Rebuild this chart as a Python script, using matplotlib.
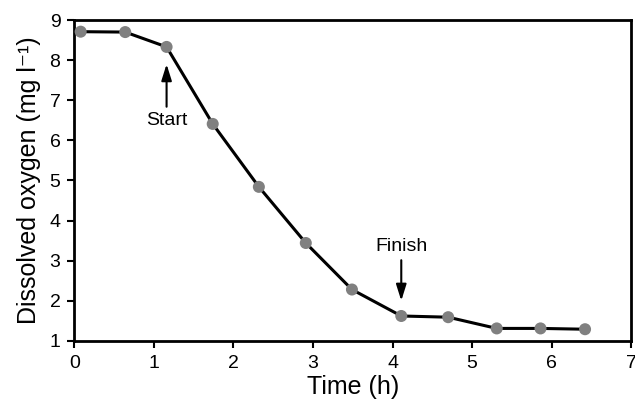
import numpy as np
from matplotlib import pyplot as plt

plt.rcParams['font.family'] = ['Liberation Sans', 'DejaVu Sans']

# sampling times (h) and dissolved oxygen (mg/l)
time_h = [0.08, 0.64, 1.16, 1.74, 2.32, 2.91, 3.49, 4.11, 4.70, 5.31, 5.86, 6.42]
oxygen = [8.71, 8.70, 8.33, 6.41, 4.84, 3.44, 2.28, 1.62, 1.59, 1.31, 1.31, 1.29]

fig = plt.figure(figsize=(6.35, 4.01), dpi=100)
ax = fig.add_axes([0.117, 0.150, 0.877, 0.800])

ax.plot(time_h, oxygen, '-', c='black', lw=2.2, zorder=2)
ax.scatter(time_h, oxygen, s=75, c='#808080', edgecolors='none', zorder=3)

ax.set_xlim(0, 7)
ax.set_ylim(1, 9)
ax.set_xticks(range(0, 8))
ax.set_yticks(range(1, 10))
for s in ax.spines.values():
    s.set_linewidth(2)
ax.tick_params(direction='out', length=5, width=1.5, labelsize=14, pad=5)
ax.set_xlabel('Time (h)', fontsize=18, labelpad=2)
ax.set_ylabel('Dissolved oxygen (mg l\u207b\u00b9)', fontsize=18, labelpad=6)

# start / finish markers
arrow = dict(arrowstyle='-|>,head_length=0.7,head_width=0.22', color='black', lw=1.5, shrinkA=2, shrinkB=0)
ax.annotate('Start', xy=(time_h[2], 7.9), xytext=(time_h[2], 6.7),
            ha='center', va='top', fontsize=14, arrowprops=arrow)
ax.annotate('Finish', xy=(time_h[7], 2.0), xytext=(time_h[7], 3.15),
            ha='center', va='bottom', fontsize=14, arrowprops=arrow)

fig.savefig('out.png', dpi=100)
